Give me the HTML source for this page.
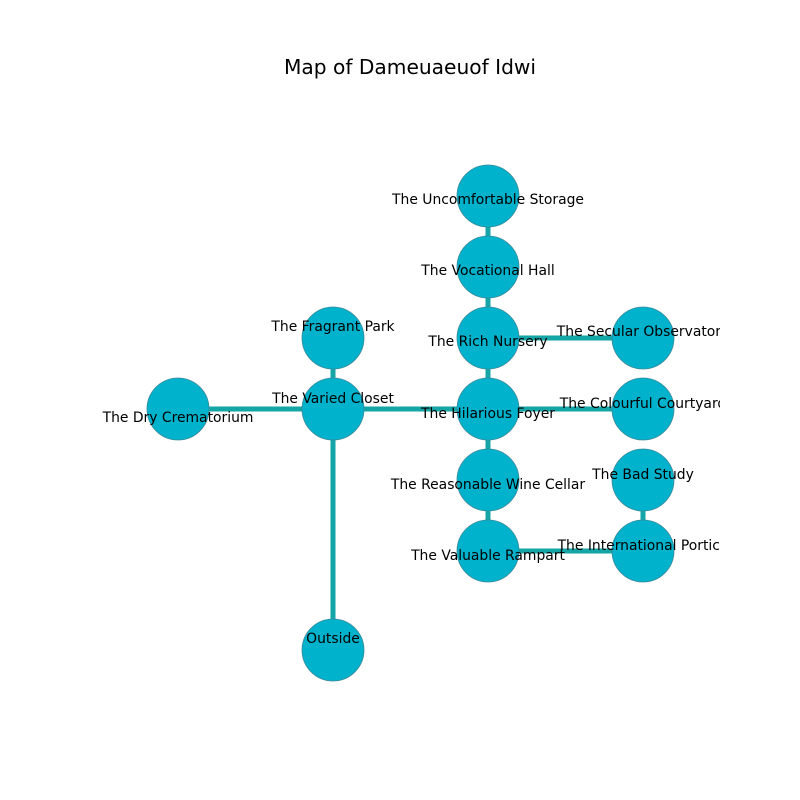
<!DOCTYPE html>
<html><head><style>body{margin:0;background:#fff}svg{display:block}</style></head><body>
<svg width="800" height="800" viewBox="0 0 800 800" xmlns="http://www.w3.org/2000/svg" font-family="DejaVu Sans, Liberation Sans, sans-serif">
<defs><clipPath id="ax"><rect x="80" y="96" width="640" height="608"/></clipPath></defs>
<text x="410" y="74" font-size="20.2" text-anchor="middle">Map of Dameuaeuof Idwi</text>
<g clip-path="url(#ax)">
<g stroke="#14a6a6" stroke-width="5">
<line x1="488" y1="196" x2="488" y2="551"/>
<line x1="178" y1="409" x2="643" y2="409"/>
<line x1="333" y1="338" x2="333" y2="650"/>
<line x1="488" y1="338" x2="643" y2="338"/>
<line x1="488" y1="551" x2="643" y2="551"/>
<line x1="643" y1="480" x2="643" y2="551"/>
</g>
<g fill="#00b2cc" stroke="#3a8a9a" stroke-width="0.8">
<circle cx="488" cy="196" r="31"/><circle cx="488" cy="267" r="31"/><circle cx="488" cy="338" r="31"/>
<circle cx="488" cy="409" r="31"/><circle cx="488" cy="480" r="31"/><circle cx="488" cy="551" r="31"/>
<circle cx="333" cy="338" r="31"/><circle cx="333" cy="409" r="31"/><circle cx="178" cy="409" r="31"/>
<circle cx="333" cy="650" r="31"/><circle cx="643" cy="338" r="31"/><circle cx="643" cy="409" r="31"/>
<circle cx="643" cy="480" r="31"/><circle cx="643" cy="551" r="31"/>
</g>
<g font-size="13.9" text-anchor="middle" dominant-baseline="central" fill="#000">
<text x="488" y="200">The Uncomfortable Storage</text>
<text x="488" y="271">The Vocational Hall</text>
<text x="488" y="342">The Rich Nursery</text>
<text x="488" y="414">The Hilarious Foyer</text>
<text x="488" y="485">The Reasonable Wine Cellar</text>
<text x="488" y="556">The Valuable Rampart</text>
<text x="333" y="327">The Fragrant Park</text>
<text x="333" y="399">The Varied Closet</text>
<text x="178" y="418">The Dry Crematorium</text>
<text x="333" y="639">Outside</text>
<text x="643" y="332">The Secular Observatory</text>
<text x="643" y="404">The Colourful Courtyard</text>
<text x="643" y="475">The Bad Study</text>
<text x="643" y="546">The International Portico</text>
</g>
</g>
</svg>
</body></html>
